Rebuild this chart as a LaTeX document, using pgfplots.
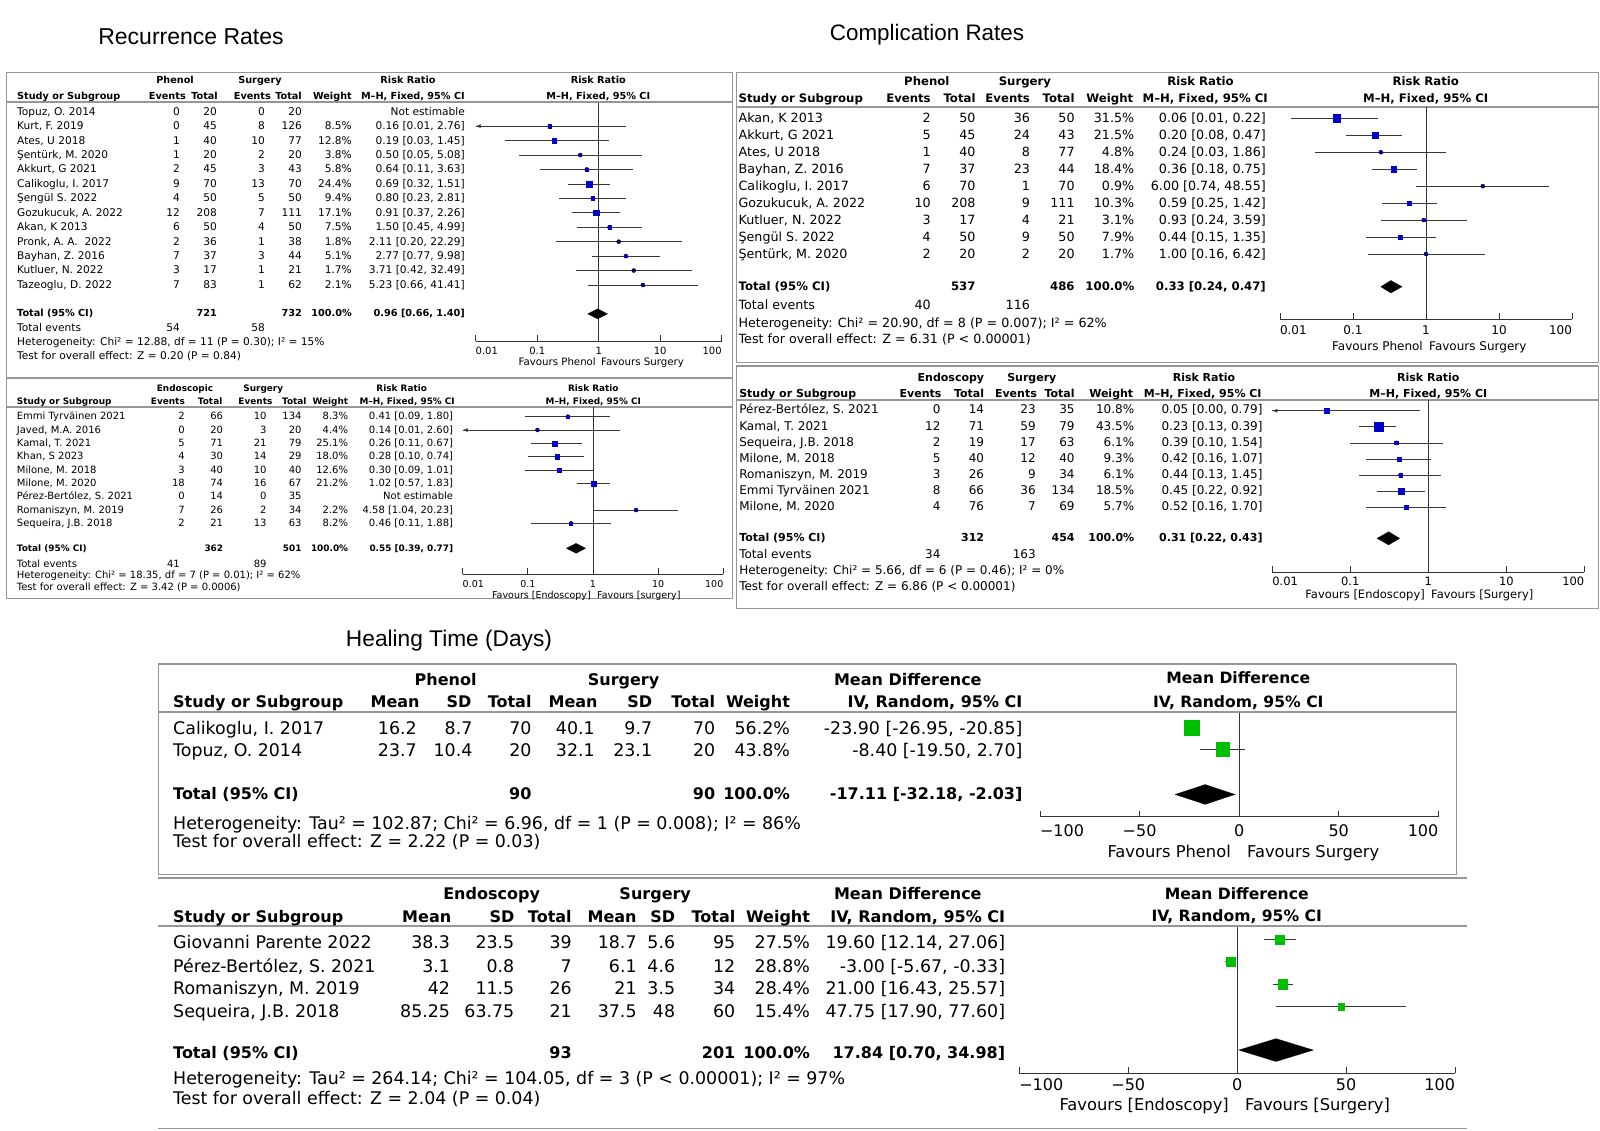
\documentclass[border=0pt]{standalone}
\usepackage{fontspec}
\setmainfont{DejaVu Sans}
\newfontfamily\titlefont{Liberation Sans}
\usepackage{pgfplots}
\usepackage{pgfplotstable}
\pgfplotsset{compat=1.18}
\usetikzlibrary{arrows.meta}

\definecolor{rmblue}{RGB}{0,0,200}
\definecolor{rmgreen}{RGB}{0,190,0}
\definecolor{framegray}{RGB}{150,150,150}
\definecolor{ciline}{RGB}{55,55,55}

% row = line of the study in its table; rr/md = estimate; lo, hi = 95% CI; w = weight (%)
% lower limits below 0.01 are cut at the axis edge (drawn with an arrow)
\pgfplotstableread{
row rr lo hi w
2 0.16 0.01 2.76 8.5
3 0.19 0.03 1.45 12.8
4 0.50 0.05 5.08 3.8
5 0.64 0.11 3.63 5.8
6 0.69 0.32 1.51 24.4
7 0.80 0.23 2.81 9.4
8 0.91 0.37 2.26 17.1
9 1.50 0.45 4.99 7.5
10 2.11 0.20 22.29 1.8
11 2.77 0.77 9.98 5.1
12 3.71 0.42 32.49 1.7
13 5.23 0.66 41.41 2.1
}\recPhenol

\pgfplotstableread{
row rr lo hi w
1 0.41 0.09 1.80 8.3
2 0.14 0.01 2.60 4.4
3 0.26 0.11 0.67 25.1
4 0.28 0.10 0.74 18.0
5 0.30 0.09 1.01 12.6
6 1.02 0.57 1.83 21.2
8 4.58 1.04 20.23 2.2
9 0.46 0.11 1.88 8.2
}\recEndo

\pgfplotstableread{
row rr lo hi w
1 0.06 0.014 0.22 31.5
2 0.20 0.08 0.47 21.5
3 0.24 0.03 1.86 4.8
4 0.36 0.18 0.75 18.4
5 6.00 0.74 48.55 0.9
6 0.59 0.25 1.42 10.3
7 0.93 0.24 3.59 3.1
8 0.44 0.15 1.35 7.9
9 1.00 0.16 6.42 1.7
}\comPhenol

\pgfplotstableread{
row rr lo hi w
1 0.05 0.01 0.79 10.8
2 0.23 0.13 0.39 43.5
3 0.39 0.10 1.54 6.1
4 0.42 0.16 1.07 9.3
5 0.44 0.13 1.45 6.1
6 0.45 0.22 0.92 18.5
7 0.52 0.16 1.70 5.7
}\comEndo

\pgfplotstableread{
row md lo hi w
1 -23.90 -26.95 -20.85 56.2
2 -8.40 -19.50 2.70 43.8
}\healPhenol

\pgfplotstableread{
row md lo hi w
1 19.60 12.14 27.06 27.5
2 -3.00 -5.67 -0.33 28.8
3 21.00 16.43 25.57 28.4
4 47.75 17.90 77.60 15.4
}\healEndo

\pgfplotsset{
  fpbase/.style={scale only axis, clip=false, enlargelimits=false,
    axis x line=bottom, axis y line=none,
    axis line style={-, black!80, line width=0.8pt},
    tick style={black!80, line width=0.8pt},
    major tick length=6pt, tick align=inside},
  fpci/.style={only marks, mark=none, forget plot,
    error bars/x dir=both, error bars/x explicit, error bars/error mark=none,
    error bars/error bar style={line width=0.7pt, ciline}},
  fpsq/.style 2 args={only marks, scatter, mark=square*, point meta=\thisrow{w},
    scatter/use mapped color={draw=#1, fill=#1},
    visualization depends on={#2*sqrt(\thisrow{w}) \as \msz},
    scatter/@pre marker code/.append style={/tikz/mark size=\msz}},
  fpref/.style={black!80, line width=0.8pt, forget plot},
  fpdia/.style={fill=black, draw=black, line width=0.2pt},
  fpcut/.style={ciline, line width=0.7pt, -{Latex[length=5pt,width=4pt]}},
}
\def\rrticks{\makebox[0pt][l]{0.01},0.1,1,10,\makebox[0pt][r]{100}}
\def\mdticks{\makebox[0pt][l]{−100},−50,0,50,\makebox[0pt][r]{100}}

% text helpers (coordinates are pixels of the reference, y downwards)
\newcommand\hc[3]{\node[anchor=base,inner sep=0pt,font=\fB] at (#1,{#2+\off}) {#3};}
\newcommand\hl[3]{\node[anchor=base west,inner sep=0pt,font=\fB] at (#1,{#2+\off}) {#3};}
\newcommand\hr[3]{\node[anchor=base east,inner sep=0pt,font=\fB] at (#1,{#2+\off}) {#3};}
\newcommand\tl[3]{\node[anchor=base west,inner sep=0pt,font=\fR] at (#1,{#2+\off}) {#3};}
\newcommand\tr[3]{\node[anchor=base east,inner sep=0pt,font=\fR] at (#1,{#2+\off}) {#3};}
\newcommand\pc[3]{\node[anchor=base,inner sep=0pt,font=\fP] at (#1,{#2+\poff}) {#3};}
\newcommand\fav[4]{%
  \node[anchor=base east,inner sep=0pt,font=\fF] at (#1,{#3+\poff}) {#4};
  \node[anchor=base west,inner sep=0pt,font=\fF] at (#2,{#3+\poff}) {\favR};}
\newcommand\rrrow[8]{\tl{\xN}{#1}{#2}\tr{\xa}{#1}{#3}\tr{\xb}{#1}{#4}\tr{\xc}{#1}{#5}%
  \tr{\xd}{#1}{#6}\tr{\xW}{#1}{#7}\tr{\xCI}{#1}{#8}}
\newcommand\mdrow[9]{\tl{\xN}{#1}{#2}\tr{\xa}{#1}{#3}\tr{\xb}{#1}{#4}\tr{\xc}{#1}{#5}%
  \tr{\xd}{#1}{#6}\tr{\xe}{#1}{#7}\tr{\xf}{#1}{#8}\tr{\xW}{#1}{#9}}

\begin{document}
\begin{tikzpicture}[x=1pt,y=-1pt]
\fill[white] (0,0) rectangle (1600,1131);
\path[use as bounding box] (0,0) rectangle (1600,1131);

\node[font=\titlefont\fontsize{23}{27}\selectfont] at (191,37) {Recurrence Rates};
\node[font=\titlefont\fontsize{22.4}{27}\selectfont] at (927,35) {Complication Rates};
\node[font=\titlefont\fontsize{22.7}{27}\selectfont] at (449,641) {Healing Time (Days)};

% ---------------- Recurrence: Phenol vs Surgery ----------------
\begin{scope}
\def\fR{\fontsize{10.6}{12}\selectfont}\def\fB{\fontsize{9.7}{12}\selectfont\bfseries}
\let\fP\fB\def\fF{\fontsize{10.2}{12}\selectfont}
\def\off{3.5}\def\poff{3.5}
\def\xN{17}\def\xa{180}\def\xb{217}\def\xc{265}\def\xd{302}\def\xW{352}\def\xCI{465}
\draw[framegray, line width=0.9pt] (6.7,72.3) rectangle (732,377);
\draw[framegray, line width=1.8pt] (6.7,102.3) -- (732,102.3);
\hc{175}{80}{Phenol}\hc{260}{80}{Surgery}\hc{408}{80}{Risk Ratio}\pc{598.3}{80}{Risk Ratio}
\hl{\xN}{96.5}{Study or Subgroup}\hr{186}{96.5}{Events}\hr{218}{96.5}{Total}\hr{271}{96.5}{Events}
\hr{302}{96.5}{Total}\hr{352}{96.5}{Weight}\hr{465}{96.5}{M–H, Fixed, 95\% CI}\pc{598.3}{96.5}{M–H, Fixed, 95\% CI}
\rrrow{111.7}{Topuz, O. 2014}{0}{20}{0}{20}{}{Not estimable}
\rrrow{126.1}{Kurt, F. 2019}{0}{45}{8}{126}{8.5\%}{0.16 [0.01, 2.76]}
\rrrow{140.6}{Ates, U 2018}{1}{40}{10}{77}{12.8\%}{0.19 [0.03, 1.45]}
\rrrow{155.0}{Şentürk, M. 2020}{1}{20}{2}{20}{3.8\%}{0.50 [0.05, 5.08]}
\rrrow{169.5}{Akkurt, G 2021}{2}{45}{3}{43}{5.8\%}{0.64 [0.11, 3.63]}
\rrrow{183.9}{Calikoglu, I. 2017}{9}{70}{13}{70}{24.4\%}{0.69 [0.32, 1.51]}
\rrrow{198.3}{Şengül S. 2022}{4}{50}{5}{50}{9.4\%}{0.80 [0.23, 2.81]}
\rrrow{212.8}{Gozukucuk, A. 2022}{12}{208}{7}{111}{17.1\%}{0.91 [0.37, 2.26]}
\rrrow{227.2}{Akan, K 2013}{6}{50}{4}{50}{7.5\%}{1.50 [0.45, 4.99]}
\rrrow{241.7}{Pronk, A. A.\ \ 2022}{2}{36}{1}{38}{1.8\%}{2.11 [0.20, 22.29]}
\rrrow{256.1}{Bayhan, Z. 2016}{7}{37}{3}{44}{5.1\%}{2.77 [0.77, 9.98]}
\rrrow{270.5}{Kutluer, N. 2022}{3}{17}{1}{21}{1.7\%}{3.71 [0.42, 32.49]}
\rrrow{285.0}{Tazeoglu, D. 2022}{7}{83}{1}{62}{2.1\%}{5.23 [0.66, 41.41]}
\hl{\xN}{313.5}{Total (95\% CI)}\hr{\xb}{313.5}{721}\hr{\xd}{313.5}{732}\hr{\xW}{313.5}{100.0\%}\hr{\xCI}{313.5}{0.96 [0.66, 1.40]}
\tl{\xN}{328}{Total events}\tr{\xa}{328}{54}\tr{\xc}{328}{58}
\tl{\xN}{341.7}{Heterogeneity: Chi² = 12.88, df = 11 (P = 0.30); I² = 15\%}
\tl{\xN}{355.7}{Test for overall effect: Z = 0.20 (P = 0.84)}
\def\favR{Favours Surgery}\fav{596}{601}{361.7}{Favours Phenol}
\begin{axis}[fpbase, xmode=log, xmin=0.01, xmax=100, xtick={0.01,0.1,1,10,100},
  xticklabels/.expand once=\rrticks, xminorticks=false,
  at={(475.7pt,-103pt)}, anchor=north west, width=246pt, height=238pt,
  ymin=-16.88, ymax=-0.397, xticklabel style={font=\fontsize{10}{12}\selectfont, yshift=-3pt}]
\addplot[fpref] coordinates {(1,-0.397) (1,-16.88)};
\addplot[fpci] table[x=rr, y expr=-\thisrow{row}, x error plus expr=\thisrow{hi}-\thisrow{rr}, x error minus expr=\thisrow{rr}-\thisrow{lo}] {\recPhenol};
\addplot[fpcut] coordinates {(2.76,-2) (0.01,-2)};
\addplot[fpsq={rmblue}{0.61}] table[x=rr, y expr=-\thisrow{row}] {\recPhenol};
\addplot[fpdia] coordinates {(0.66,-15) (0.96,-14.65) (1.40,-15) (0.96,-15.35) (0.66,-15)};
\end{axis}
\end{scope}

% ---------------- Recurrence: Endoscopic vs Surgery ----------------
\begin{scope}
\def\fR{\fontsize{10}{11}\selectfont}\def\fB{\fontsize{8.9}{11}\selectfont\bfseries}
\let\fP\fB\def\fF{\fontsize{9.5}{11}\selectfont}
\def\off{3.2}\def\poff{3.2}
\def\xN{16.7}\def\xa{185}\def\xb{223.3}\def\xc{266.7}\def\xd{301.7}\def\xW{348.3}\def\xCI{453.3}
\draw[framegray, line width=0.9pt] (6.7,378) rectangle (732,598);
\draw[framegray, line width=1.8pt] (6.7,406.7) -- (732,406.7);
\hc{185}{388}{Endoscopic}\hc{263.3}{388}{Surgery}\hc{401.7}{388}{Risk Ratio}\pc{593.3}{388}{Risk Ratio}
\hl{\xN}{401.7}{Study or Subgroup}\hr{185}{401.7}{Events}\hr{222.5}{401.7}{Total}\hr{272.5}{401.7}{Events}
\hr{306.7}{401.7}{Total}\hr{348.3}{401.7}{Weight}\hr{455}{401.7}{M–H, Fixed, 95\% CI}\pc{593.3}{401.7}{M–H, Fixed, 95\% CI}
\rrrow{416.7}{Emmi Tyrväinen 2021}{2}{66}{10}{134}{8.3\%}{0.41 [0.09, 1.80]}
\rrrow{430.0}{Javed, M.A. 2016}{0}{20}{3}{20}{4.4\%}{0.14 [0.01, 2.60]}
\rrrow{443.4}{Kamal, T. 2021}{5}{71}{21}{79}{25.1\%}{0.26 [0.11, 0.67]}
\rrrow{456.7}{Khan, S 2023}{4}{30}{14}{29}{18.0\%}{0.28 [0.10, 0.74]}
\rrrow{470.0}{Milone, M. 2018}{3}{40}{10}{40}{12.6\%}{0.30 [0.09, 1.01]}
\rrrow{483.4}{Milone, M. 2020}{18}{74}{16}{67}{21.2\%}{1.02 [0.57, 1.83]}
\rrrow{496.7}{Pérez-Bertólez, S. 2021}{0}{14}{0}{35}{}{Not estimable}
\rrrow{510.0}{Romaniszyn, M. 2019}{7}{26}{2}{34}{2.2\%}{4.58 [1.04, 20.23]}
\rrrow{523.3}{Sequeira, J.B. 2018}{2}{21}{13}{63}{8.2\%}{0.46 [0.11, 1.88]}
\hl{\xN}{548.3}{Total (95\% CI)}\hr{\xb}{548.3}{362}\hr{\xd}{548.3}{501}\hr{\xW}{548.3}{100.0\%}\hr{\xCI}{548.3}{0.55 [0.39, 0.77]}
\tl{\xN}{564.3}{Total events}\tr{180}{564.3}{41}\tr{\xc}{564.3}{89}
\tl{\xN}{575.7}{Heterogeneity: Chi² = 18.35, df = 7 (P = 0.01); I² = 62\%}
\tl{\xN}{587.7}{Test for overall effect: Z = 3.42 (P = 0.0006)}
\def\favR{Favours [surgery]}\fav{591}{597}{595}{Favours [Endoscopy]}
\begin{axis}[fpbase, xmode=log, xmin=0.01, xmax=100, xtick={0.01,0.1,1,10,100},
  xticklabels/.expand once=\rrticks, xminorticks=false,
  at={(462.7pt,-406.7pt)}, anchor=north west, width=260.6pt, height=167.6pt,
  ymin=-12.82, ymax=-0.25, xticklabel style={font=\fontsize{9.5}{11}\selectfont, yshift=-3pt}]
\addplot[fpref] coordinates {(1,-0.25) (1,-12.82)};
\addplot[fpci] table[x=rr, y expr=-\thisrow{row}, x error plus expr=\thisrow{hi}-\thisrow{rr}, x error minus expr=\thisrow{rr}-\thisrow{lo}] {\recEndo};
\addplot[fpcut] coordinates {(2.60,-2) (0.01,-2)};
\addplot[fpsq={rmblue}{0.53}] table[x=rr, y expr=-\thisrow{row}] {\recEndo};
\addplot[fpdia] coordinates {(0.39,-10.87) (0.55,-10.495) (0.77,-10.87) (0.55,-11.245) (0.39,-10.87)};
\end{axis}
\end{scope}

% ---------------- Complications: Phenol vs Surgery ----------------
\begin{scope}
\def\fR{\fontsize{12.7}{14}\selectfont}\def\fB{\fontsize{11.7}{13}\selectfont\bfseries}
\let\fP\fB\def\fF{\fontsize{12}{14}\selectfont}
\def\off{4.1}\def\poff{4}
\def\xN{738.4}\def\xa{930.9}\def\xb{975.7}\def\xc{1030.1}\def\xd{1074.8}\def\xW{1134.4}\def\xCI{1266}
\draw[framegray, line width=0.9pt] (736,72.7) rectangle (1598,362);
\draw[framegray, line width=1.8pt] (736,107.3) -- (1598,107.3);
\hc{926.8}{81.7}{Phenol}\hc{1024.9}{81.7}{Surgery}\hc{1200.5}{81.7}{Risk Ratio}\pc{1425.7}{81.7}{Risk Ratio}
\hl{\xN}{98.3}{Study or Subgroup}\hr{930.9}{98.3}{Events}\hr{975.7}{98.3}{Total}\hr{1030.1}{98.3}{Events}
\hr{1074.8}{98.3}{Total}\hr{1133.4}{98.3}{Weight}\hr{1268}{98.3}{M–H, Fixed, 95\% CI}\pc{1425.7}{98.3}{M–H, Fixed, 95\% CI}
\rrrow{118.3}{Akan, K 2013}{2}{50}{36}{50}{31.5\%}{0.06 [0.01, 0.22]}
\rrrow{135.3}{Akkurt, G 2021}{5}{45}{24}{43}{21.5\%}{0.20 [0.08, 0.47]}
\rrrow{152.2}{Ates, U 2018}{1}{40}{8}{77}{4.8\%}{0.24 [0.03, 1.86]}
\rrrow{169.2}{Bayhan, Z. 2016}{7}{37}{23}{44}{18.4\%}{0.36 [0.18, 0.75]}
\rrrow{186.1}{Calikoglu, I. 2017}{6}{70}{1}{70}{0.9\%}{6.00 [0.74, 48.55]}
\rrrow{203.1}{Gozukucuk, A. 2022}{10}{208}{9}{111}{10.3\%}{0.59 [0.25, 1.42]}
\rrrow{220.1}{Kutluer, N. 2022}{3}{17}{4}{21}{3.1\%}{0.93 [0.24, 3.59]}
\rrrow{237.0}{Şengül S. 2022}{4}{50}{9}{50}{7.9\%}{0.44 [0.15, 1.35]}
\rrrow{254.0}{Şentürk, M. 2020}{2}{20}{2}{20}{1.7\%}{1.00 [0.16, 6.42]}
\hl{\xN}{286.7}{Total (95\% CI)}\hr{\xb}{286.7}{537}\hr{\xd}{286.7}{486}\hr{\xW}{286.7}{100.0\%}\hr{\xCI}{286.7}{0.33 [0.24, 0.47]}
\tl{\xN}{305.7}{Total events}\tr{\xa}{305.7}{40}\tr{\xc}{305.7}{116}
\tl{\xN}{323.3}{Heterogeneity: Chi² = 20.90, df = 8 (P = 0.007); I² = 62\%}
\tl{\xN}{339.3}{Test for overall effect: Z = 6.31 (P < 0.00001)}
\def\favR{Favours Surgery}\fav{1423}{1429}{346}{Favours Phenol}
\begin{axis}[fpbase, xmode=log, xmin=0.01, xmax=100, xtick={0.01,0.1,1,10,100},
  xticklabels/.expand once=\rrticks, xminorticks=false,
  at={(1280pt,-107.3pt)}, anchor=north west, width=292pt, height=212pt,
  ymin=-12.85, ymax=-0.351, xticklabel style={font=\fontsize{12}{14}\selectfont, yshift=-3pt}]
\addplot[fpref] coordinates {(1,-0.351) (1,-12.85)};
\addplot[fpci] table[x=rr, y expr=-\thisrow{row}, x error plus expr=\thisrow{hi}-\thisrow{rr}, x error minus expr=\thisrow{rr}-\thisrow{lo}] {\comPhenol};
\addplot[fpsq={rmblue}{0.65}] table[x=rr, y expr=-\thisrow{row}] {\comPhenol};
\addplot[fpdia] coordinates {(0.24,-10.93) (0.33,-10.56) (0.47,-10.93) (0.33,-11.30) (0.24,-10.93)};
\end{axis}
\end{scope}

% ---------------- Complications: Endoscopy vs Surgery ----------------
\begin{scope}
\def\fR{\fontsize{12}{13}\selectfont}\def\fB{\fontsize{11}{12}\selectfont\bfseries}
\let\fP\fB\def\fF{\fontsize{11.5}{13}\selectfont}
\def\off{3.9}\def\poff{3.8}
\def\xN{739.1}\def\xa{940.6}\def\xb{984.3}\def\xc{1035.9}\def\xd{1074.8}\def\xW{1134.4}\def\xCI{1262.7}
\draw[framegray, line width=0.9pt] (736,366) rectangle (1598,608);
\draw[framegray, line width=1.8pt] (736,366) -- (1598,366);
\draw[framegray, line width=1.8pt] (736,400) -- (1598,400);
\hc{950.9}{377.7}{Endoscopy}\hc{1031.8}{377.7}{Surgery}\hc{1204}{377.7}{Risk Ratio}\pc{1428.3}{377.7}{Risk Ratio}
\hl{\xN}{393.3}{Study or Subgroup}\hr{941.6}{393.3}{Events}\hr{984.3}{393.3}{Total}\hr{1037}{393.3}{Events}
\hr{1074.8}{393.3}{Total}\hr{1133.4}{393.3}{Weight}\hr{1261.7}{393.3}{M–H, Fixed, 95\% CI}\pc{1428.3}{393.3}{M–H, Fixed, 95\% CI}
\rrrow{410.0}{Pérez-Bertólez, S. 2021}{0}{14}{23}{35}{10.8\%}{0.05 [0.00, 0.79]}
\rrrow{426.1}{Kamal, T. 2021}{12}{71}{59}{79}{43.5\%}{0.23 [0.13, 0.39]}
\rrrow{442.2}{Sequeira, J.B. 2018}{2}{19}{17}{63}{6.1\%}{0.39 [0.10, 1.54]}
\rrrow{458.3}{Milone, M. 2018}{5}{40}{12}{40}{9.3\%}{0.42 [0.16, 1.07]}
\rrrow{474.4}{Romaniszyn, M. 2019}{3}{26}{9}{34}{6.1\%}{0.44 [0.13, 1.45]}
\rrrow{490.5}{Emmi Tyrväinen 2021}{8}{66}{36}{134}{18.5\%}{0.45 [0.22, 0.92]}
\rrrow{506.6}{Milone, M. 2020}{4}{76}{7}{69}{5.7\%}{0.52 [0.16, 1.70]}
\hl{\xN}{537.7}{Total (95\% CI)}\hr{\xb}{537.7}{312}\hr{\xd}{537.7}{454}\hr{\xW}{537.7}{100.0\%}\hr{\xCI}{537.7}{0.31 [0.22, 0.43]}
\tl{\xN}{555}{Total events}\tr{\xa}{555}{34}\tr{\xc}{555}{163}
\tl{\xN}{571}{Heterogeneity: Chi² = 5.66, df = 6 (P = 0.46); I² = 0\%}
\tl{\xN}{587}{Test for overall effect: Z = 6.86 (P < 0.00001)}
\def\favR{Favours [Surgery]}\fav{1425}{1431}{595}{Favours [Endoscopy]}
\begin{axis}[fpbase, xmode=log, xmin=0.01, xmax=100, xtick={0.01,0.1,1,10,100},
  xticklabels/.expand once=\rrticks, xminorticks=false,
  at={(1272.3pt,-400pt)}, anchor=north west, width=312pt, height=172.3pt,
  ymin=-11.04, ymax=-0.335, xticklabel style={font=\fontsize{11.5}{13}\selectfont, yshift=-1pt}]
\addplot[fpref] coordinates {(1,-0.335) (1,-11.04)};
\addplot[fpci] table[x=rr, y expr=-\thisrow{row}, x error plus expr=\thisrow{hi}-\thisrow{rr}, x error minus expr=\thisrow{rr}-\thisrow{lo}] {\comEndo};
\addplot[fpcut] coordinates {(0.79,-1) (0.01,-1)};
\addplot[fpsq={rmblue}{0.70}] table[x=rr, y expr=-\thisrow{row}] {\comEndo};
\addplot[fpdia] coordinates {(0.22,-8.93) (0.31,-8.52) (0.43,-8.93) (0.31,-9.34) (0.22,-8.93)};
\end{axis}
\end{scope}

% ---------------- Healing time: Phenol vs Surgery ----------------
\begin{scope}
\def\fR{\fontsize{17.4}{20}\selectfont}\def\fB{\fontsize{16}{19}\selectfont\bfseries}
\def\fP{\fontsize{15.6}{18}\selectfont\bfseries}\def\fF{\fontsize{16.3}{19}\selectfont}
\def\off{6}\def\poff{5.6}
\def\xN{173}\def\xa{416.9}\def\xb{472.6}\def\xc{531.7}\def\xd{594.9}\def\xe{652.3}\def\xf{715.4}\def\xW{790.1}\def\xCI{1022.6}
\draw[framegray, line width=0.9pt] (158,664) rectangle (1456,874);
\draw[framegray, line width=1.8pt] (158,664) -- (1456,664);
\draw[framegray, line width=1.8pt] (158,711.7) -- (1456,711.7);
\hc{445.6}{679.3}{Phenol}\hc{623.6}{679.3}{Surgery}\hc{907.8}{679.3}{Mean Difference}\pc{1238.3}{678.3}{Mean Difference}
\hl{\xN}{701.7}{Study or Subgroup}\hr{419.8}{701.7}{Mean}\hr{471.5}{701.7}{SD}\hr{531.7}{701.7}{Total}\hr{597.8}{701.7}{Mean}
\hr{652.3}{701.7}{SD}\hr{715.4}{701.7}{Total}\hr{790.1}{701.7}{Weight}\hr{1022.6}{701.7}{IV, Random, 95\% CI}
\pc{1238.3}{701.7}{IV, Random, 95\% CI}
\mdrow{728.3}{Calikoglu, I. 2017}{16.2}{8.7}{70}{40.1}{9.7}{70}{56.2\%}\tr{\xCI}{728.3}{-23.90 [-26.95, -20.85]}
\mdrow{750}{Topuz, O. 2014}{23.7}{10.4}{20}{32.1}{23.1}{20}{43.8\%}\tr{\xCI}{750}{-8.40 [-19.50, 2.70]}
\hl{\xN}{793.3}{Total (95\% CI)}\hr{\xc}{793.3}{90}\hr{\xf}{793.3}{90}\hr{\xW}{793.3}{100.0\%}\hr{\xCI}{793.3}{-17.11 [-32.18, -2.03]}
\tl{\xN}{823.3}{Heterogeneity: Tau² = 102.87; Chi² = 6.96, df = 1 (P = 0.008); I² = 86\%}
\tl{\xN}{841.7}{Test for overall effect: Z = 2.22 (P = 0.03)}
\def\favR{Favours Surgery}\fav{1231}{1247}{852.3}{Favours Phenol}
\begin{axis}[fpbase, xmin=-100, xmax=100, xtick={-100,-50,0,50,100},
  xticklabels/.expand once=\mdticks,
  at={(1040pt,-712.7pt)}, anchor=north west, width=398.3pt, height=104pt,
  ymin=-5.13, ymax=-0.315, xticklabel style={font=\fontsize{16}{19}\selectfont, yshift=-4.5pt}]
\addplot[fpref] coordinates {(0,-0.315) (0,-5.13)};
\addplot[fpci] table[x=md, y expr=-\thisrow{row}, x error plus expr=\thisrow{hi}-\thisrow{md}, x error minus expr=\thisrow{md}-\thisrow{lo}] {\healPhenol};
\addplot[fpsq={rmgreen}{1.0}] table[x=md, y expr=-\thisrow{row}] {\healPhenol};
\addplot[fpdia] coordinates {(-32.18,-4.1) (-17.11,-3.64) (-2.03,-4.1) (-17.11,-4.56) (-32.18,-4.1)};
\end{axis}
\end{scope}

% ---------------- Healing time: Endoscopy vs Surgery ----------------
\begin{scope}
\def\fR{\fontsize{17.4}{20}\selectfont}\def\fB{\fontsize{16}{19}\selectfont\bfseries}
\def\fP{\fontsize{15.6}{18}\selectfont\bfseries}\def\fF{\fontsize{16.3}{19}\selectfont}
\def\off{6}\def\poff{5.6}
\def\xN{173}\def\xa{450.2}\def\xb{514.5}\def\xc{571.9}\def\xd{636.8}\def\xe{675.3}\def\xf{735.5}\def\xW{810.2}\def\xCI{1005.3}
\draw[framegray, line width=1.8pt] (158,878) -- (1467,878);
\draw[framegray, line width=1.8pt] (158,926) -- (1467,926);
\draw[framegray, line width=0.9pt] (158,1128) -- (1467,1128);
\hc{491.6}{893.3}{Endoscopy}\hc{655.2}{893.3}{Surgery}\hc{907.8}{893.3}{Mean Difference}\pc{1236.7}{894}{Mean Difference}
\hl{\xN}{916.7}{Study or Subgroup}\hr{451.4}{916.7}{Mean}\hr{514.5}{916.7}{SD}\hr{571.9}{916.7}{Total}\hr{636.8}{916.7}{Mean}
\hr{675.3}{916.7}{SD}\hr{735.5}{916.7}{Total}\hr{810.2}{916.7}{Weight}\hr{1005.3}{916.7}{IV, Random, 95\% CI}
\pc{1236.7}{916}{IV, Random, 95\% CI}
\mdrow{942.7}{Giovanni Parente 2022}{38.3}{23.5}{39}{18.7}{5.6}{95}{27.5\%}\tr{\xCI}{942.7}{19.60 [12.14, 27.06]}
\mdrow{966}{Pérez-Bertólez, S. 2021}{3.1}{0.8}{7}{6.1}{4.6}{12}{28.8\%}\tr{\xCI}{966}{-3.00 [-5.67, -0.33]}
\mdrow{988.3}{Romaniszyn, M. 2019}{42}{11.5}{26}{21}{3.5}{34}{28.4\%}\tr{\xCI}{988.3}{21.00 [16.43, 25.57]}
\mdrow{1011}{Sequeira, J.B. 2018}{85.25}{63.75}{21}{37.5}{48}{60}{15.4\%}\tr{\xCI}{1011}{47.75 [17.90, 77.60]}
\hl{\xN}{1052.7}{Total (95\% CI)}\hr{\xc}{1052.7}{93}\hr{\xf}{1052.7}{201}\hr{\xW}{1052.7}{100.0\%}\hr{\xCI}{1052.7}{17.84 [0.70, 34.98]}
\tl{\xN}{1078.3}{Heterogeneity: Tau² = 264.14; Chi² = 104.05, df = 3 (P < 0.00001); I² = 97\%}
\tl{\xN}{1098.3}{Test for overall effect: Z = 2.04 (P = 0.04)}
\def\favR{Favours [Surgery]}\fav{1229}{1245}{1105}{Favours [Endoscopy]}
\begin{axis}[fpbase, xmin=-100, xmax=100, xtick={-100,-50,0,50,100},
  xticklabels/.expand once=\mdticks,
  at={(1019.3pt,-927.3pt)}, anchor=north west, width=435.7pt, height=145.9pt,
  ymin=-6.96, ymax=-0.466, xticklabel style={font=\fontsize{16}{19}\selectfont, yshift=-2pt}]
\addplot[fpref] coordinates {(0,-0.466) (0,-6.96)};
\addplot[fpci] table[x=md, y expr=-\thisrow{row}, x error plus expr=\thisrow{hi}-\thisrow{md}, x error minus expr=\thisrow{md}-\thisrow{lo}] {\healEndo};
\addplot[fpsq={rmgreen}{0.86}] table[x=md, y expr=-\thisrow{row}] {\healEndo};
\addplot[fpdia] coordinates {(0.70,-5.93) (17.84,-5.42) (34.98,-5.93) (17.84,-6.44) (0.70,-5.93)};
\end{axis}
\end{scope}

\end{tikzpicture}
\end{document}
